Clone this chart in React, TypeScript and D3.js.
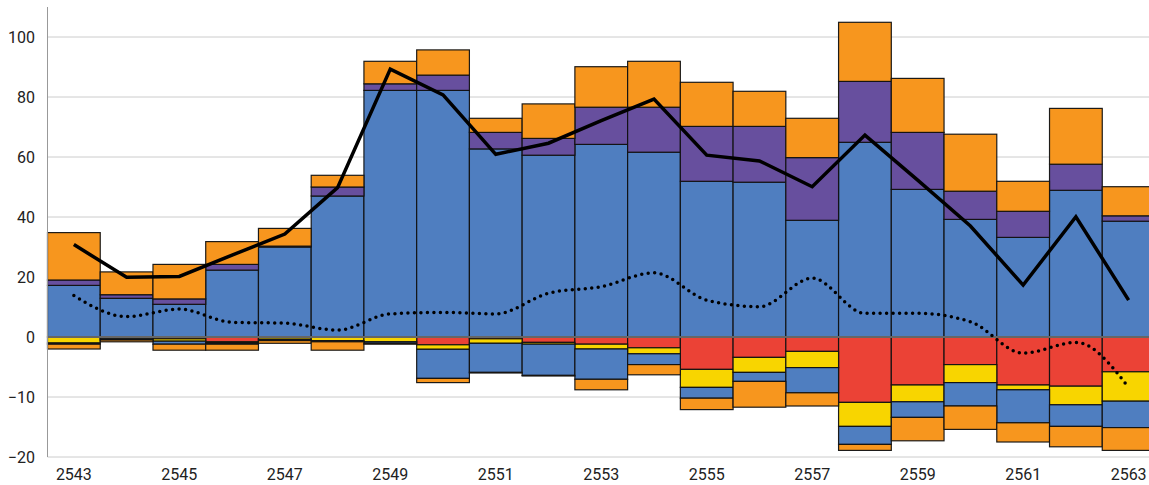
import React from "react";
import * as d3 from "d3";

const years = ["2543","2544","2545","2546","2547","2548","2549","2550","2551","2552","2553","2554","2555","2556","2557","2558","2559","2560","2561","2562","2563"];
const xTickLabels = ["2543","2545","2547","2549","2551","2553","2555","2557","2559","2561","2563"];
const yTicks = [-20, -10, 0, 20, 40, 60, 80, 100];

const posBlue = [17.2, 12.9, 10.9, 22.3, 30.0, 47.0, 82.2, 82.2, 62.7, 60.6, 64.2, 61.6, 51.9, 51.6, 38.9, 64.9, 49.2, 39.2, 33.2, 48.9, 38.6];
const posPurple = [1.8, 1.2, 1.8, 1.9, 0.3, 3.0, 2.2, 5.1, 5.5, 5.6, 12.4, 15.0, 18.3, 18.6, 20.9, 20.3, 19.0, 9.4, 8.7, 8.7, 1.8];
const posOrange = [15.8, 7.6, 11.5, 7.6, 5.9, 3.9, 7.5, 8.4, 4.7, 11.5, 13.5, 15.3, 14.7, 11.7, 13.1, 19.7, 18.0, 19.0, 10.0, 18.6, 9.7];
const negRed = [0, 0, -0.3, -0.8, -0.1, 0, 0, -1.3, -0.3, -0.9, -1.2, -1.8, -5.4, -3.4, -2.4, -10.9, -8.0, -4.6, -8.0, -8.2, -5.8];
const negYellow = [-1.0, -0.3, -0.4, -0.2, -0.3, -0.6, -0.8, -0.75, -0.75, -0.3, -0.8, -1.0, -3.0, -2.5, -2.7, -4.0, -2.8, -3.0, -0.8, -3.1, -4.9];
const negBlue = [-0.2, -0.2, -0.5, -0.2, -0.2, -0.2, -0.25, -4.85, -4.85, -5.2, -5.05, -1.8, -1.8, -1.5, -4.2, -3.0, -2.6, -3.9, -5.5, -3.6, -4.4];
const negOrange = [-0.8, -0.3, -1.0, -1.0, -0.45, -1.4, -0.15, -0.7, -0.1, -0.1, -1.75, -1.7, -1.9, -4.3, -2.2, -1.0, -3.9, -3.9, -3.2, -3.4, -3.8];
const lineSolid = [30.8, 19.9, 20.2, 27.3, 34.3, 49.8, 89.3, 80.7, 60.9, 64.6, 72.1, 79.3, 60.6, 58.7, 50.1, 67.3, 52.3, 37.0, 17.3, 40.1, 12.3];
const lineDotted = [13.8, 6.8, 9.3, 4.9, 4.6, 2.3, 7.7, 8.2, 7.7, 14.6, 16.8, 21.4, 12.3, 10.1, 19.6, 7.9, 7.9, 5.1, -2.7, -0.9, -8.4];

const seriesKeys = ["posBlue","posPurple","posOrange","negRed","negYellow","negBlue","negOrange"];
const seriesColors: Record<string,string> = {
  posBlue: "#4f7ec0", posPurple: "#674f9e", posOrange: "#f7961e",
  negRed: "#eb4236", negYellow: "#f8d500", negBlue: "#4f7ec0", negOrange: "#f7961e",
};

export default function App() {
  const W = 1149, H = 485;
  const x = d3.scaleBand<string>().domain(years).range([47.5, 1155]).padding(0);
  const y = d3.scaleLinear().domain([-20, 0, 110]).range([457, 337, 7]);

  const table = years.map((yr, i) => ({
    year: yr,
    posBlue: posBlue[i], posPurple: posPurple[i], posOrange: posOrange[i],
    negRed: negRed[i], negYellow: negYellow[i], negBlue: negBlue[i], negOrange: negOrange[i],
  }));
  const stacked = d3.stack<any>().keys(seriesKeys).offset(d3.stackOffsetDiverging)(table);

  const cx = (i: number) => (x(years[i]) as number) + x.bandwidth() / 2;
  const solidPath = d3.line<number>().x((_, i) => cx(i)).y((d) => y(d))(lineSolid) || "";
  const dottedPath = d3.line<number>().x((_, i) => cx(i)).y((d) => y(d)).curve(d3.curveMonotoneX)(lineDotted) || "";

  const font = "Roboto, 'Noto Sans', sans-serif";

  return (
    <svg width={W} height={H} style={{ position: "absolute", left: 0, top: 0, background: "#fff" }}>
      {yTicks.filter((t) => t !== 0).map((t) => (
        <line key={t} x1={47.5} x2={W} y1={y(t)} y2={y(t)} stroke="#cccccc" strokeWidth={1} />
      ))}
      {stacked.map((s) => (
        <g key={s.key} fill={seriesColors[s.key]}>
          {s.map((d, i) => {
            const y0 = y(Math.max(d[0], d[1]));
            const y1 = y(Math.min(d[0], d[1]));
            return (
              <rect key={i} x={x(years[i])} y={y0} width={x.bandwidth()} height={Math.max(0, y1 - y0)}
                stroke="#111" strokeWidth={1.2} strokeOpacity={0.95} />
            );
          })}
        </g>
      ))}
      <line x1={47.5} x2={W} y1={y(0)} y2={y(0)} stroke="#666" strokeWidth={2} />
      <line x1={47.5} x2={47.5} y1={7} y2={457} stroke="#999" strokeWidth={1} />
      <path d={solidPath} fill="none" stroke="#000" strokeWidth={3.5} strokeLinejoin="miter" />
      <path d={dottedPath} fill="none" stroke="#000" strokeWidth={3.5} strokeLinecap="round" strokeDasharray="0 6.5" />
      {yTicks.map((t) => (
        <text key={t} x={35} y={y(t)} dy="0.35em" textAnchor="end" fontFamily={font} fontSize={16} fill="#222">
          {t < 0 ? "\u2212" + Math.abs(t) : t}
        </text>
      ))}
      {xTickLabels.map((l) => (
        <text key={l} x={(x(l) as number) + x.bandwidth() / 2} y={480} textAnchor="middle" fontFamily={font} fontSize={16} fill="#222">
          {l}
        </text>
      ))}
    </svg>
  );
}
